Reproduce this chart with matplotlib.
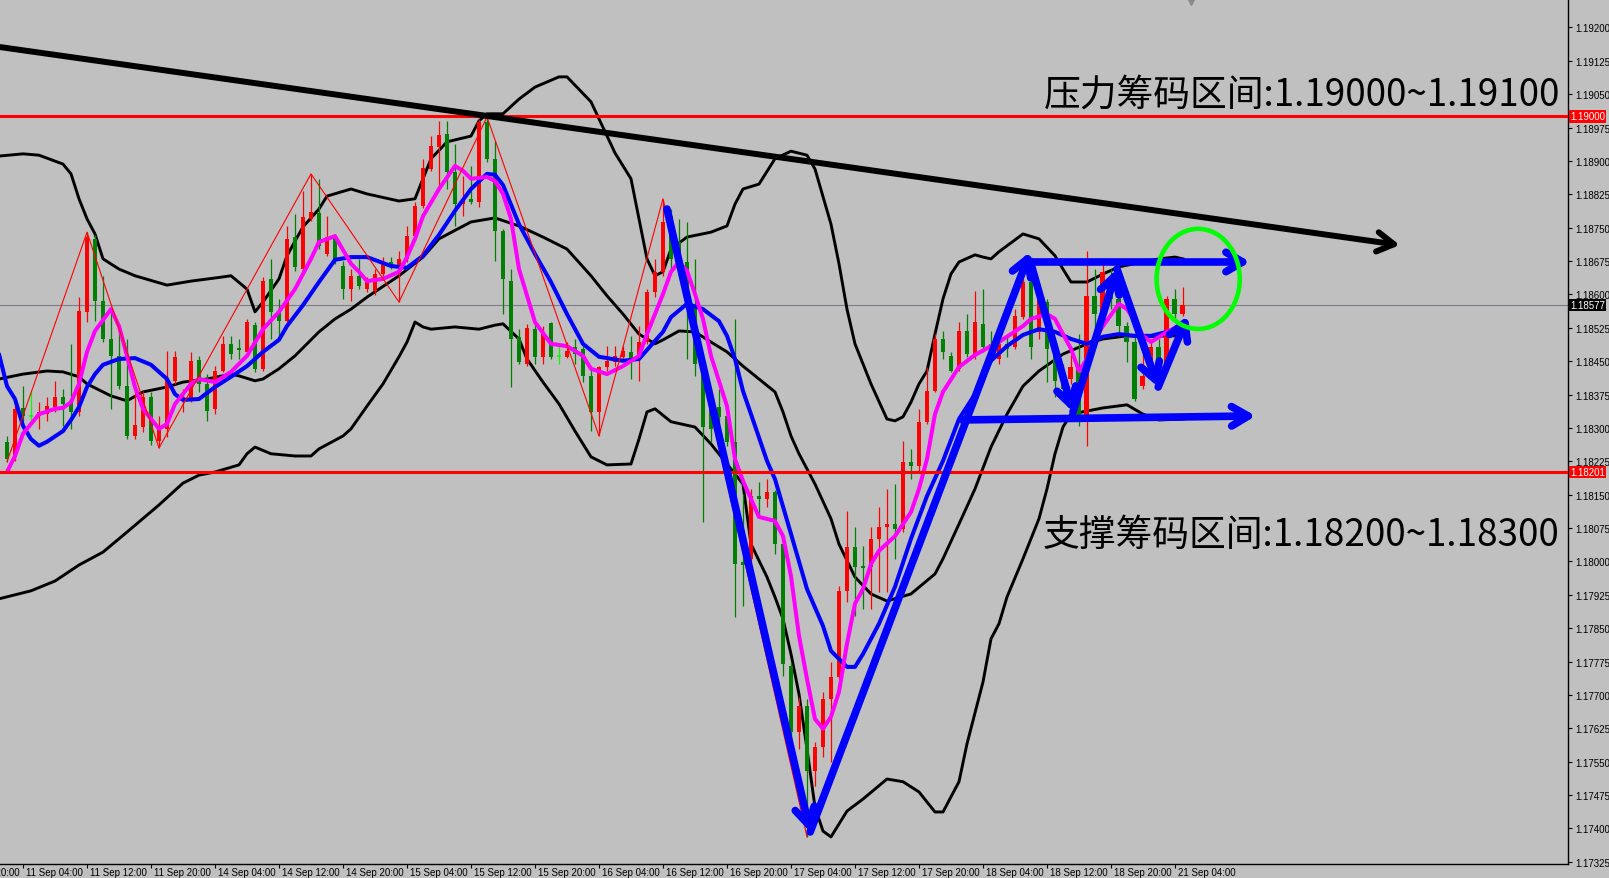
import numpy as np
import matplotlib.pyplot as plt
import matplotlib.transforms as mtransforms
from matplotlib.patches import Ellipse

# bar index 0 = 11 Sep 04:00 (H1 bars)
first_bar = -2
opens = [1.18269, 1.18235, 1.18345, 1.18326, 1.18327, 1.18332, 1.18347, 1.18370, 1.18356, 1.18336,
         1.18561, 1.18725, 1.18585, 1.18500, 1.18462, 1.18394, 1.18282, 1.18302, 1.18370, 1.18271,
         1.18298, 1.18406, 1.18363, 1.18361, 1.18453, 1.18399, 1.18343, 1.18428, 1.18489, 1.18480,
         1.18471, 1.18531, 1.18433, 1.18635, 1.18561, 1.18540, 1.18729, 1.18657, 1.18770, 1.18783,
         1.18691, 1.18729, 1.18664, 1.18612, 1.18642, 1.18612, 1.18608, 1.18646, 1.18673, 1.18662,
         1.18680, 1.18731, 1.18799, 1.18882, 1.18931, 1.18961, 1.18875, 1.18803, 1.18815, 1.18808,
         1.18988, 1.18905, 1.18743, 1.18630, 1.18505, 1.18444, 1.18522, 1.18460, 1.18536, 1.18462,
         1.18460, 1.18482, 1.18478, 1.18417, 1.18336, 1.18437, 1.18448, 1.18460, 1.18471, 1.18460,
         1.18493, 1.18606, 1.18651, 1.18776, 1.18718, 1.18673, 1.18574, 1.18444, 1.18381, 1.18347,
         1.18327, 1.18269, 1.17999, 1.18006, 1.18147, 1.18141, 1.18156, 1.18039, 1.17765, 1.17617,
         1.17675, 1.17529, 1.17583, 1.17691, 1.17741, 1.17934, 1.18033, 1.17990, 1.17988, 1.18051,
         1.18078, 1.18084, 1.18073, 1.18224, 1.18215, 1.18314, 1.18383, 1.18500, 1.18462, 1.18433,
         1.18518, 1.18462, 1.18534, 1.18489, 1.18455, 1.18489, 1.18482, 1.18550, 1.18628, 1.18516,
         1.18583, 1.18473, 1.18417, 1.18410, 1.18439, 1.18327, 1.18597, 1.18556, 1.18628, 1.18590,
         1.18529, 1.18493, 1.18394, 1.18417, 1.18482, 1.18433, 1.18590, 1.18556]
highs = [1.18282, 1.18354, 1.18394, 1.18381, 1.18358, 1.18370, 1.18406, 1.18388, 1.18489, 1.18594,
         1.18740, 1.18734, 1.18642, 1.18567, 1.18522, 1.18500, 1.18394, 1.18383, 1.18381, 1.18327,
         1.18473, 1.18473, 1.18388, 1.18471, 1.18462, 1.18421, 1.18439, 1.18507, 1.18507, 1.18500,
         1.18545, 1.18538, 1.18639, 1.18680, 1.18590, 1.18754, 1.18781, 1.18833, 1.18871, 1.18860,
         1.18776, 1.18736, 1.18675, 1.18657, 1.18680, 1.18639, 1.18657, 1.18684, 1.18684, 1.18698,
         1.18754, 1.18808, 1.18905, 1.18956, 1.18990, 1.18990, 1.18938, 1.18866, 1.18889, 1.18994,
         1.18999, 1.18945, 1.18747, 1.18657, 1.18522, 1.18534, 1.18540, 1.18529, 1.18538, 1.18484,
         1.18493, 1.18500, 1.18484, 1.18439, 1.18439, 1.18484, 1.18484, 1.18484, 1.18507, 1.18529,
         1.18612, 1.18680, 1.18815, 1.18792, 1.18770, 1.18763, 1.18680, 1.18455, 1.18388, 1.18388,
         1.18336, 1.18545, 1.18152, 1.18163, 1.18179, 1.18185, 1.18160, 1.18044, 1.17774, 1.17696,
         1.17691, 1.17594, 1.17707, 1.17774, 1.17945, 1.18114, 1.18078, 1.18035, 1.18078, 1.18123,
         1.18163, 1.18174, 1.18271, 1.18253, 1.18343, 1.18437, 1.18511, 1.18518, 1.18471, 1.18538,
         1.18556, 1.18608, 1.18612, 1.18518, 1.18511, 1.18511, 1.18567, 1.18635, 1.18673, 1.18612,
         1.18590, 1.18489, 1.18444, 1.18466, 1.18511, 1.18698, 1.18657, 1.18680, 1.18657, 1.18597,
         1.18538, 1.18507, 1.18478, 1.18500, 1.18500, 1.18597, 1.18612, 1.18617]
lows = [1.18224, 1.18226, 1.18316, 1.18314, 1.18298, 1.18316, 1.18336, 1.18305, 1.18298, 1.18327,
        1.18538, 1.18540, 1.18493, 1.18343, 1.18388, 1.18275, 1.18275, 1.18291, 1.18262, 1.18255,
        1.18280, 1.18399, 1.18336, 1.18358, 1.18381, 1.18316, 1.18331, 1.18426, 1.18455, 1.18455,
        1.18462, 1.18426, 1.18428, 1.18500, 1.18500, 1.18538, 1.18653, 1.18653, 1.18765, 1.18702,
        1.18687, 1.18669, 1.18590, 1.18585, 1.18612, 1.18606, 1.18599, 1.18639, 1.18657, 1.18583,
        1.18673, 1.18725, 1.18794, 1.18878, 1.18837, 1.18837, 1.18754, 1.18776, 1.18803, 1.18797,
        1.18898, 1.18675, 1.18556, 1.18392, 1.18444, 1.18439, 1.18444, 1.18444, 1.18455, 1.18444,
        1.18457, 1.18444, 1.18403, 1.18293, 1.18282, 1.18428, 1.18439, 1.18451, 1.18410, 1.18406,
        1.18489, 1.18594, 1.18642, 1.18657, 1.18662, 1.18455, 1.18417, 1.18089, 1.18269, 1.18275,
        1.18260, 1.17875, 1.17900, 1.18001, 1.18102, 1.18123, 1.18017, 1.17743, 1.17601, 1.17579,
        1.17381, 1.17496, 1.17561, 1.17550, 1.17736, 1.17909, 1.17878, 1.17893, 1.17893, 1.17932,
        1.17932, 1.18006, 1.18066, 1.18185, 1.18201, 1.18309, 1.18381, 1.18455, 1.18426, 1.18428,
        1.18460, 1.18455, 1.18471, 1.18455, 1.18444, 1.18460, 1.18478, 1.18545, 1.18455, 1.18500,
        1.18403, 1.18370, 1.18370, 1.18399, 1.18305, 1.18260, 1.18522, 1.18550, 1.18567, 1.18507,
        1.18448, 1.18361, 1.18388, 1.18410, 1.18426, 1.18426, 1.18545, 1.18552]
closes = [1.18230, 1.18343, 1.18327, 1.18326, 1.18336, 1.18349, 1.18370, 1.18354, 1.18336, 1.18563,
          1.18729, 1.18585, 1.18500, 1.18462, 1.18394, 1.18282, 1.18307, 1.18370, 1.18271, 1.18302,
          1.18410, 1.18460, 1.18370, 1.18451, 1.18399, 1.18338, 1.18428, 1.18489, 1.18466, 1.18475,
          1.18538, 1.18433, 1.18630, 1.18561, 1.18540, 1.18725, 1.18662, 1.18774, 1.18785, 1.18709,
          1.18729, 1.18680, 1.18612, 1.18642, 1.18619, 1.18628, 1.18646, 1.18673, 1.18664, 1.18680,
          1.18731, 1.18799, 1.18884, 1.18934, 1.18958, 1.18875, 1.18803, 1.18815, 1.18808, 1.18988,
          1.18905, 1.18743, 1.18635, 1.18500, 1.18448, 1.18525, 1.18460, 1.18513, 1.18460, 1.18462,
          1.18473, 1.18466, 1.18417, 1.18336, 1.18437, 1.18451, 1.18462, 1.18473, 1.18455, 1.18493,
          1.18606, 1.18651, 1.18763, 1.18680, 1.18673, 1.18574, 1.18444, 1.18302, 1.18298, 1.18325,
          1.18269, 1.17994, 1.17992, 1.18147, 1.18141, 1.18156, 1.18039, 1.17770, 1.17617, 1.17675,
          1.17529, 1.17583, 1.17691, 1.17741, 1.17934, 1.18033, 1.17988, 1.17986, 1.18051, 1.18078,
          1.18084, 1.18073, 1.18224, 1.18215, 1.18314, 1.18383, 1.18500, 1.18471, 1.18428, 1.18518,
          1.18466, 1.18538, 1.18482, 1.18473, 1.18489, 1.18478, 1.18552, 1.18628, 1.18482, 1.18590,
          1.18478, 1.18406, 1.18388, 1.18437, 1.18327, 1.18597, 1.18556, 1.18651, 1.18590, 1.18529,
          1.18493, 1.18365, 1.18417, 1.18482, 1.18455, 1.18590, 1.18556, 1.18577]

# Bollinger bands (bar, price)
bb_up_bars = [-3, 0, 2, 5, 6, 7, 8, 9, 10, 12, 14, 18, 21, 24, 26, 28, 29, 30, 32, 33, 35, 37, 38, 41, 43, 47,
              49, 51, 53, 56, 57, 58, 60, 62, 64, 67, 68, 71, 74, 76, 78, 79, 80, 81, 83, 86, 88, 89, 90, 92,
              94, 96, 98, 99, 101, 102, 103, 104, 106, 108, 109, 110, 111, 112, 113, 114, 115, 116, 117, 119,
              120, 121, 122, 125, 127, 129, 130, 131, 133, 135, 137, 140, 142, 144, 145]
bb_up = [1.18911, 1.18916, 1.18913, 1.18893, 1.18871, 1.18815, 1.18770, 1.18736, 1.18680, 1.18657,
         1.18642, 1.18621, 1.18630, 1.18637, 1.18642, 1.18612, 1.18561, 1.18583, 1.18635, 1.18687,
         1.18752, 1.18792, 1.18821, 1.18837, 1.18826, 1.18810, 1.18815, 1.18905, 1.18943, 1.18956,
         1.18990, 1.19006, 1.19006, 1.19039, 1.19066, 1.19089, 1.19089, 1.19033, 1.18918, 1.18860,
         1.18680, 1.18642, 1.18651, 1.18702, 1.18729, 1.18740, 1.18754, 1.18803, 1.18837, 1.18848,
         1.18905, 1.18922, 1.18913, 1.18882, 1.18758, 1.18669, 1.18567, 1.18489, 1.18399, 1.18320,
         1.18316, 1.18325, 1.18358, 1.18399, 1.18428, 1.18511, 1.18590, 1.18646, 1.18673, 1.18689,
         1.18684, 1.18680, 1.18696, 1.18736, 1.18725, 1.18687, 1.18657, 1.18628, 1.18628, 1.18646,
         1.18662, 1.18673, 1.18680, 1.18684, 1.18680]
bb_mid_bars = [-3, 0, 3, 5, 7, 8, 11, 13, 15, 18, 20, 23, 26, 27, 29, 30, 32, 34, 37, 39, 41, 43, 47, 50,
               52, 56, 59, 62, 65, 68, 71, 73, 75, 77, 79, 80, 82, 84, 86, 88, 90, 92, 94, 95, 96, 97, 99,
               101, 102, 104, 106, 108, 111, 114, 115, 117, 119, 121, 123, 125, 127, 130, 133, 135, 138,
               141, 143, 145]
bb_mid = [1.18410, 1.18421, 1.18428, 1.18426, 1.18415, 1.18399, 1.18372, 1.18361, 1.18381, 1.18392,
          1.18403, 1.18410, 1.18421, 1.18417, 1.18406, 1.18410, 1.18433, 1.18462, 1.18516, 1.18545,
          1.18567, 1.18594, 1.18642, 1.18684, 1.18725, 1.18763, 1.18772, 1.18754, 1.18729, 1.18702,
          1.18642, 1.18597, 1.18556, 1.18511, 1.18489, 1.18498, 1.18518, 1.18516, 1.18493, 1.18471,
          1.18439, 1.18410, 1.18381, 1.18336, 1.18282, 1.18242, 1.18174, 1.18096, 1.18039, 1.17965,
          1.17927, 1.17911, 1.17927, 1.17972, 1.18006, 1.18084, 1.18163, 1.18257, 1.18331, 1.18394,
          1.18428, 1.18466, 1.18489, 1.18500, 1.18507, 1.18505, 1.18507, 1.18507]
bb_low_bars = [-3, 1, 4, 7, 10, 13, 17, 20, 22, 24, 27, 28, 29, 31, 34, 36, 37, 40, 41, 43, 45, 47, 48, 49,
               50, 51, 54, 57, 59, 60, 62, 63, 65, 67, 69, 71, 73, 76, 77, 78, 79, 81, 84, 86, 88, 90, 91,
               93, 94, 95, 96, 97, 98, 99, 100, 101, 102, 103, 105, 108, 110, 112, 114, 115, 117, 118, 120,
               121, 122, 123, 125, 127, 128, 129, 130, 131, 133, 135, 138, 140, 142, 145]
bb_low = [1.17916, 1.17934, 1.17956, 1.17992, 1.18021, 1.18066, 1.18127, 1.18176, 1.18194, 1.18201,
          1.18217, 1.18242, 1.18257, 1.18242, 1.18237, 1.18237, 1.18253, 1.18282, 1.18298, 1.18349,
          1.18399, 1.18460, 1.18493, 1.18538, 1.18527, 1.18522, 1.18527, 1.18522, 1.18531, 1.18534,
          1.18500, 1.18455, 1.18403, 1.18354, 1.18293, 1.18235, 1.18217, 1.18219, 1.18275, 1.18336,
          1.18343, 1.18314, 1.18302, 1.18264, 1.18219, 1.18174, 1.18039, 1.17965, 1.17920, 1.17871,
          1.17792, 1.17702, 1.17579, 1.17448, 1.17394, 1.17381, 1.17410, 1.17439, 1.17466, 1.17511,
          1.17505, 1.17482, 1.17437, 1.17437, 1.17505, 1.17590, 1.17729, 1.17826, 1.17860, 1.17920,
          1.18006, 1.18096, 1.18163, 1.18242, 1.18302, 1.18331, 1.18338, 1.18345, 1.18352, 1.18331,
          1.18318, 1.18320]

# moving averages (bar, price)
ma_fast_bars = [-2, -1, 0, 2, 4, 5, 6, 7, 8, 9, 11, 12, 13, 14, 15, 17, 18, 19, 21, 22, 24, 26, 28, 30, 32,
                34, 36, 37, 39, 41, 42, 43, 45, 47, 48, 49, 50, 52, 54, 55, 56, 58, 59, 60, 61, 62, 64, 66,
                68, 70, 71, 73, 75, 77, 78, 80, 81, 82, 83, 84, 85, 86, 88, 89, 90, 92, 94, 95, 96, 97, 98,
                99, 100, 101, 102, 103, 104, 105, 106, 107, 109, 111, 112, 113, 114, 115, 117, 119, 121, 122,
                125, 126, 128, 129, 130, 131, 132, 133, 134, 135, 137, 138, 139, 140, 141, 143, 145]
ma_fast = [1.18201, 1.18237, 1.18287, 1.18331, 1.18343, 1.18345, 1.18358, 1.18399, 1.18471, 1.18518,
           1.18567, 1.18529, 1.18462, 1.18392, 1.18343, 1.18298, 1.18309, 1.18354, 1.18399, 1.18410,
           1.18403, 1.18426, 1.18462, 1.18522, 1.18561, 1.18612, 1.18680, 1.18718, 1.18731, 1.18669,
           1.18651, 1.18630, 1.18635, 1.18651, 1.18684, 1.18725, 1.18776, 1.18837, 1.18889, 1.18878,
           1.18860, 1.18864, 1.18855, 1.18826, 1.18770, 1.18657, 1.18538, 1.18489, 1.18484, 1.18462,
           1.18433, 1.18421, 1.18439, 1.18462, 1.18511, 1.18601, 1.18651, 1.18673, 1.18653, 1.18601,
           1.18545, 1.18462, 1.18349, 1.18230, 1.18181, 1.18100, 1.18091, 1.18057, 1.17967, 1.17833,
           1.17736, 1.17646, 1.17624, 1.17651, 1.17707, 1.17815, 1.17905, 1.17938, 1.17994, 1.18024,
           1.18057, 1.18111, 1.18163, 1.18230, 1.18331, 1.18381, 1.18437, 1.18464, 1.18484, 1.18493,
           1.18529, 1.18545, 1.18556, 1.18545, 1.18511, 1.18478, 1.18428, 1.18455, 1.18500, 1.18529,
           1.18579, 1.18567, 1.18540, 1.18507, 1.18493, 1.18516, 1.18534]
ma_slow_bars = [-3, -2, -1, 0, 1, 2, 3, 5, 6, 7, 8, 9, 10, 12, 14, 16, 18, 19, 20, 22, 24, 26, 28, 30, 32,
                33, 35, 37, 39, 41, 43, 46, 48, 50, 52, 54, 56, 58, 59, 60, 62, 64, 66, 68, 70, 72, 75, 77,
                80, 81, 83, 85, 87, 88, 89, 90, 91, 93, 94, 96, 98, 100, 101, 103, 104, 105, 107, 109, 111,
                113, 115, 117, 119, 121, 123, 125, 127, 129, 131, 133, 135, 137, 139, 141, 143, 145]
ma_slow = [1.18466, 1.18394, 1.18365, 1.18305, 1.18275, 1.18260, 1.18269, 1.18293, 1.18318, 1.18347,
           1.18392, 1.18421, 1.18442, 1.18455, 1.18457, 1.18442, 1.18410, 1.18376, 1.18363, 1.18365,
           1.18392, 1.18415, 1.18439, 1.18471, 1.18498, 1.18529, 1.18576, 1.18628, 1.18678, 1.18684,
           1.18684, 1.18664, 1.18660, 1.18687, 1.18734, 1.18788, 1.18837, 1.18871, 1.18869, 1.18846,
           1.18758, 1.18691, 1.18628, 1.18556, 1.18489, 1.18460, 1.18451, 1.18455, 1.18516, 1.18549,
           1.18579, 1.18567, 1.18540, 1.18507, 1.18455, 1.18383, 1.18331, 1.18226, 1.18185, 1.18062,
           1.17938, 1.17855, 1.17799, 1.17763, 1.17763, 1.17792, 1.17860, 1.17943, 1.18051, 1.18147,
           1.18226, 1.18320, 1.18376, 1.18451, 1.18484, 1.18509, 1.18522, 1.18516, 1.18500, 1.18489,
           1.18505, 1.18511, 1.18507, 1.18507, 1.18516, 1.18522]

# zigzag swing bars (H = high, L = low)
zigzag_bars = [-2, 8, 17, 36, 47, 58, 72, 80, 98]
zigzag_side = ['L', 'H', 'L', 'H', 'L', 'H', 'L', 'H', 'L']

# horizontal levels
resist_level = 1.19000
support_level = 1.18201
bid_price = 1.18577

# hand-drawn annotations (bar, price)
trend_line = [(-2.875, 1.19156), (172.1, 1.18711)]
blue_arrows = [
    [(80.5, 1.18792), (98.4, 1.17392)],
    [(98.4, 1.17392), (125.9, 1.18696)],
    [(125.9, 1.18675), (131.25, 1.18336)],
    [(131.25, 1.18336), (136.75, 1.18657)],
    [(136.75, 1.18657), (141.9, 1.18392)],
    [(141.9, 1.18392), (145.6, 1.18552)],
    [(125.9, 1.18673), (153.4, 1.18673)],
    [(117.4, 1.18318), (154.1, 1.18327)],
]
circle_center = (146.9, 1.18635)
circle_size = (10.4, 0.00225)

resist_text = '压力筹码区间:1.19000~1.19100'
support_text = '支撑筹码区间:1.18200~1.18300'

time_tick_bars = [-8, 0, 8, 16, 24, 32, 40, 48, 56, 64, 72, 80, 88, 96, 104, 112, 120, 128, 136, 144]
time_labels = ['10 Sep 20:00', '11 Sep 04:00', '11 Sep 12:00', '11 Sep 20:00', '14 Sep 04:00',
               '14 Sep 12:00', '14 Sep 20:00', '15 Sep 04:00', '15 Sep 12:00', '15 Sep 20:00',
               '16 Sep 04:00', '16 Sep 12:00', '16 Sep 20:00', '17 Sep 04:00', '17 Sep 12:00',
               '17 Sep 20:00', '18 Sep 04:00', '18 Sep 12:00', '18 Sep 20:00', '21 Sep 04:00']
price_ticks = [1.19200 - 0.00075 * k for k in range(26)]

BG = '#C0C0C0'
plt.rcParams['font.family'] = ['Noto Sans CJK SC', 'DejaVu Sans']

fig = plt.figure(figsize=(16.09, 8.79), dpi=100, facecolor=BG)
ax = fig.add_axes([0, 0.0159, 0.9745, 0.9841], facecolor=BG)
ax.set_xlim(-2.875, 193.125)
ax.set_ylim(1.17320, 1.19264)

bars = np.arange(first_bar, first_bar + len(opens))
o = np.array(opens)
h = np.array(highs)
l = np.array(lows)
c = np.array(closes)

# bollinger bands
ax.plot(bb_up_bars, bb_up, color='black', lw=2.1, zorder=2)
ax.plot(bb_mid_bars, bb_mid, color='black', lw=2.1, zorder=2)
ax.plot(bb_low_bars, bb_low, color='black', lw=2.1, zorder=2)

# candles: red = up, green = down
for b, oo, hh, ll, cc in zip(bars, o, h, l, c):
    if abs(cc - oo) < 0.00001:
        col = '#00FF00'
    elif cc > oo:
        col = '#FF0000'
    else:
        col = '#008000'
    ax.vlines(b, ll, hh, color=col, lw=0.9, zorder=3)
    if abs(cc - oo) < 0.00002:
        ax.hlines(cc, b - 0.3, b + 0.3, color=col, lw=1.2, zorder=3)
    else:
        ax.bar(b, abs(cc - oo), bottom=min(oo, cc), width=0.62, color=col, lw=0, zorder=3)

# moving averages
ax.plot(ma_slow_bars, ma_slow, color='#0000FF', lw=2.9, zorder=4, solid_capstyle='round')
ax.plot(ma_fast_bars, ma_fast, color='#FF00FF', lw=2.9, zorder=4, solid_capstyle='round')

# zigzag
zz_y = [h[b - first_bar] if s == 'H' else l[b - first_bar] for b, s in zip(zigzag_bars, zigzag_side)]
ax.plot(zigzag_bars, zz_y, color='#FF0000', lw=0.8, zorder=4.5)

# levels
ax.axhline(resist_level, color='#FF0000', lw=2.2, zorder=5)
ax.axhline(support_level, color='#FF0000', lw=2.2, zorder=5)
ax.axhline(bid_price, color='#7c7c8a', lw=0.8, zorder=1.5)

# trend line and blue arrows
ax.annotate('', xy=trend_line[1], xytext=trend_line[0],
            arrowprops=dict(arrowstyle='->,head_length=0.6,head_width=0.35', color='black', lw=4.3,
                            mutation_scale=20, shrinkA=0, shrinkB=0, capstyle='round', joinstyle='round'),
            zorder=6)
for start, end in blue_arrows:
    ax.annotate('', xy=end, xytext=start,
                arrowprops=dict(arrowstyle='->,head_length=0.6,head_width=0.35', color='#0000FF', lw=5.5,
                                mutation_scale=20, shrinkA=0, shrinkB=0, capstyle='round', joinstyle='round'),
                zorder=6)

ax.add_patch(Ellipse(circle_center, circle_size[0], circle_size[1], fill=False, ec='#00FF00', lw=3.3, zorder=6))

ax.text(192.1, 1.19051, resist_text, ha='right', va='center', fontsize=26.5, color='black', zorder=7)
ax.text(192.1, 1.18060, support_text, ha='right', va='center', fontsize=26.5, color='black', zorder=7)

# chart shift marker
ax.plot([146], [1.19264], marker='v', ms=8, color='#8a8a8a', clip_on=False, zorder=7)

# axes styling
for side in ['left', 'top']:
    ax.spines[side].set_visible(False)
for side in ['right', 'bottom']:
    ax.spines[side].set_color('black')
    ax.spines[side].set_linewidth(1.0)

ax.yaxis.tick_right()
ax.set_yticks(price_ticks)
ax.set_yticklabels(['%.5f' % p for p in price_ticks])
ax.tick_params(axis='y', direction='out', length=3, width=0.8, pad=2, labelsize=7,
               labelfontfamily='Liberation Sans', colors='black')

vis_ticks = [t for t in time_tick_bars if t >= -2.875]
ax.set_xticks(vis_ticks)
ax.set_xticklabels([])
ax.tick_params(axis='x', direction='out', length=3, width=0.8)
trans = mtransforms.blended_transform_factory(ax.transData, ax.transAxes) + \
    mtransforms.ScaledTranslation(2 / 72, -2.5 / 72, fig.dpi_scale_trans)
for t, lab in zip(time_tick_bars, time_labels):
    ax.text(t, 0, lab, transform=trans, ha='left', va='top', fontsize=7,
            family='Liberation Sans', clip_on=False)

# price boxes on the scale
box_trans = mtransforms.blended_transform_factory(ax.transAxes, ax.transData)
for price, face in [(resist_level, '#FF0000'), (support_level, '#FF0000'), (bid_price, 'black')]:
    ax.text(1.0015, price, '%.5f' % price, transform=box_trans, ha='left', va='center', fontsize=7,
            family='Liberation Sans', color='white', zorder=8, clip_on=False,
            bbox=dict(boxstyle='square,pad=0.12', fc=face, ec='none'))

fig.savefig('out.png', dpi=100, facecolor=BG)
